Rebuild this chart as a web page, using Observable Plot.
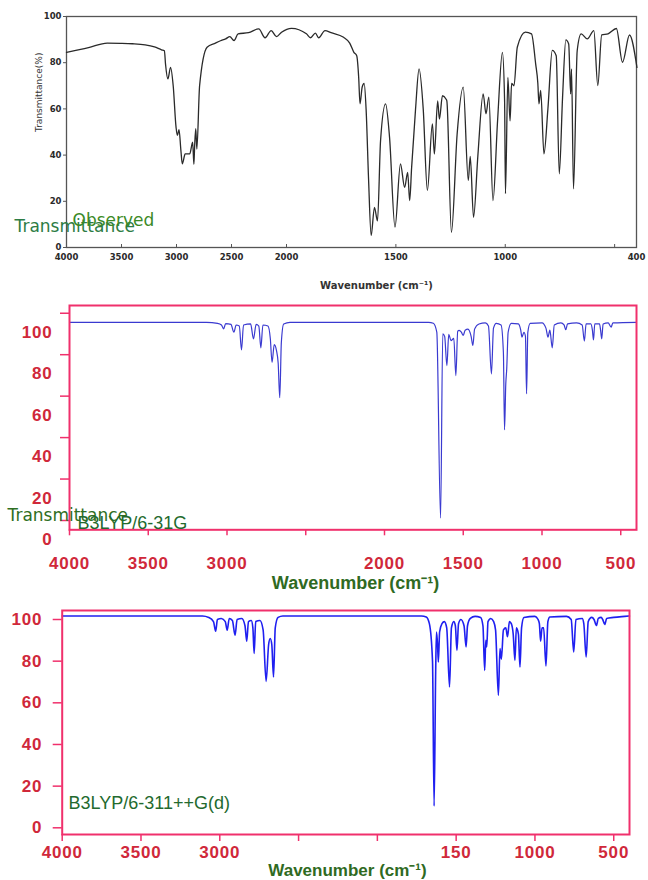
<!DOCTYPE html>
<html><head><meta charset="utf-8">
<script src="https://cdn.jsdelivr.net/npm/d3@7"></script>
<script src="https://cdn.jsdelivr.net/npm/@observablehq/plot@0.6"></script>
<style>
body{margin:0;background:#fff;}
#root{position:relative;width:648px;height:880px;overflow:hidden;background:#fff;}
#root svg{position:absolute;left:0;overflow:visible;}
.calc .tk text{letter-spacing:0.8px;}
</style></head><body><div id="root"></div>
<script>
// ---------- data ----------
const obsWavenumber = [4000,3800,3630,3510,3400,3285,3200,3136,3110,3100,3078,3054,3030,3004,2992,2977,2960,2947,2921,2880,2853,2842,2835,2825,2815,2790,2722,2646,2600,2553,2515,2477,2440,2345,2252,2195,2139,2091,2045,1977,1909,1890,1868,1853,1824,1796,1739,1711,1692,1679,1670,1664,1654,1645,1636,1625,1613,1598,1584,1570,1547,1529,1504,1479,1460,1446,1437,1428,1410,1394,1375,1356,1333,1324,1309,1301,1287,1271,1267,1246,1220,1192,1169,1160,1145,1125,1101,1088,1075,1056,1035,1013,1003,999,988,978,971,960,945,908,880,861,851,846,838,823,805,785,767,753,738,723,710,701,697,688,671,653,625,595,577,559,530,492,464,432,398];
const obsTransmittance = [84.5,86.5,88.5,88.4,88.2,87.7,86.8,85.6,85.2,79.5,73,78,70,52,48.5,51,42,36.2,40.5,40.5,45.6,36,44,51.5,42.6,70,86.7,88.5,89.5,90.3,91.3,89.6,92.5,93,94.6,90.8,93.9,91.3,93.2,94.9,92.5,90.8,92.8,90.8,93.9,93,91,88.5,84.5,83,73.6,62.2,69.5,71,59.7,30,5.2,17.4,11.5,46.3,62.2,47.8,8.8,36.2,26,32.5,20.3,34.6,60,77.3,60,24.7,53.5,40.5,63.5,55.6,65.7,64.3,63.5,6.6,49,69.4,29,39.4,13.1,40,66.5,57.9,65.1,20.3,55,84.5,63.5,23.3,73.6,54.8,71,70,86.7,93.2,92.5,79.5,71,62.2,68,40.5,60,85.3,83,31.9,65,89.9,88.1,66.5,77.3,25.4,85.3,92.5,90.3,93.9,70.1,92,92.5,94.8,80.2,92,78];

const b31gWavenumber = [4000,3130,3060,3035,3022,3008,2975,2956,2942,2922,2908,2895,2850,2832,2815,2798,2785,2772,2740,2725,2714,2700,2686,2675,2665,2655,2640,2600,1720,1690,1668,1644,1630,1618,1604,1592,1578,1560,1547,1535,1526,1512,1500,1488,1470,1450,1439,1428,1400,1360,1340,1321,1308,1290,1260,1245,1238,1230,1224,1215,1195,1150,1135,1127,1115,1105,1098,1090,1075,1000,975,962,950,935,922,880,860,849,838,780,745,731,720,690,680,673,665,635,628,621,612,580,561,550,400];
const b31gTransmittance = [104.8,104.8,104.3,103.5,101.6,104.2,103.8,100,103.5,103,91.5,103.5,104,96.8,103.8,103,92.5,103.5,103,97,85.5,94,91.2,85,68.4,95,104,104.8,104.8,104.3,100,10.3,99.2,98,83.9,99,96,97,79.1,100.5,100.9,100,98.5,101,101.5,98,93.6,101.5,104,104.5,103,79.9,102,104.3,103.5,90,52.9,75,82.3,100,104.3,104,101,97.6,100,98,70.3,100,104.3,104.5,102,97.6,101,92.5,103.5,104.5,103.5,101.2,104,104.5,103.5,95.7,104,104,101,96.3,104,104,101,96.8,104,104.5,102.5,104.5,104.8];

const b311Wavenumber = [4000,3110,3070,3040,3026,3015,2990,2965,2953,2940,2920,2903,2890,2860,2840,2829,2818,2800,2790,2782,2772,2745,2725,2706,2690,2680,2670,2659,2648,2630,2600,1720,1690,1670,1650,1640,1630,1625,1618,1613,1605,1590,1575,1560,1542,1530,1515,1505,1495,1485,1470,1450,1437,1428,1410,1380,1345,1330,1319,1312,1306,1298,1280,1262,1250,1232,1222,1213,1200,1185,1174,1162,1150,1138,1127,1118,1105,1095,1085,1070,1000,980,972,964,955,945,930,918,905,800,770,754,740,700,690,675,662,640,625,610,598,580,570,557,545,500,430,400];
const b311Transmittance = [101.7,101.7,101,99,94.4,100,100.5,99,94.9,100.5,99.5,92.5,100,100.5,97,89.6,99,99.5,96,83.7,99,99.5,95,70.3,88,90.9,88,72.4,96,101,101.7,101.7,101.2,98,80,10.4,75,94,88,79.6,94,98,99,96,67.6,96,99,97,85.2,98,100,97,86.8,97,100.5,101.5,101,97,75.6,90,86.8,99,100.5,99,95,63.6,86,81,95,96,91.7,99,98,93,80.4,96,93,77.2,96,101,101.5,100,98,89.6,96,96,77.7,99,101.2,101.5,100,84.4,100,100.5,98,82,99,101,100,97.1,100.5,101,100,97.6,100.5,101,101.5,101.7];

const yTickValues = [0,20,40,60,80,100];
const obsXTickValues = [3500,3000,2500,2000,1500,1000,500];
const obsXLabelValues = [4000,3500,3000,2500,2000,1500,1000,400];
const calcXTickValues = [4000,3500,3000,2500,2000,1500,1000,500];
const b31gXLabelValues = [4000,3500,3000,2000,1500,1000,500];
const b311XLabelValues = [4000,3500,3000,1500,1000,500];
const b311XLabelText = {4000:"4000",3500:"3500",3000:"3000",1500:"150",1000:"1000",500:"500"};

const obsTitle = "Observed";
const transLabel = "Transmittance";
const obsYTitle = "Transmittance(%)";
const xTitle = "Wavenumber (cm\u207B\u00B9)";
const b31gTitle = "B3LYP/6-31G";
const b311Title = "B3LYP/6-311++G(d)";

const obsData = obsWavenumber.map((w,i)=>({w, t: obsTransmittance[i]}));
const b31gData = b31gWavenumber.map((w,i)=>({w, t: b31gTransmittance[i]}));
const b311Data = b311Wavenumber.map((w,i)=>({w, t: b311Transmittance[i]}));

const root = document.getElementById("root");
const pink = "#f0306c";
const red = "#d0283a";
const plain = d => String(d);

// ---------- panel 1 : observed ----------
const p1 = Plot.plot({
  width: 648, height: 295,
  marginLeft: 66, marginRight: 12, marginTop: 16, marginBottom: 48,
  style: {background: "transparent", fontFamily: "DejaVu Sans", color: "#222"},
  x: {type: "linear", domain: [4000, 2000, 400], range: [66, 286, 636]},
  y: {domain: [0, 100], range: [247, 16]},
  marks: [
    Plot.frame({stroke: "#555", strokeWidth: 1.3}),
    Plot.axisY({ticks: yTickValues, tickSize: 3, tickPadding: 2, fontSize: 8.5, fontWeight: "bold", label: null, stroke: "#555", fill: "#2a2a2a", tickFormat: plain}),
    Plot.axisX({ticks: obsXTickValues, tickSize: 3, dy: -3, tickFormat: () => "", label: null, stroke: "#555"}),
    Plot.axisX({ticks: obsXLabelValues, tickSize: 0, tickPadding: 6, fontSize: 8.5, fontWeight: "bold", label: null, fill: "#2a2a2a", tickFormat: plain}),
    Plot.line(obsData, {x: "w", y: "t", stroke: "#2a2a2a", strokeWidth: 1.3, curve: "monotone-x"}),
    Plot.text([obsYTitle], {frameAnchor: "left", dx: -27, rotate: -90, fontSize: 9, fill: "#333"}),
    Plot.text([xTitle], {frameAnchor: "top-left", dx: 310, dy: 265, fontSize: 10, fontWeight: "bold", fill: "#333", textAnchor: "middle"}),
    Plot.text([transLabel], {frameAnchor: "top-left", dx: -52, dy: 210, fontSize: 17, fill: "#2d7c44", textAnchor: "start", lineAnchor: "middle"}),
    Plot.text([obsTitle], {frameAnchor: "top-left", dx: 6, dy: 204, fontSize: 17, fill: "#3b8a26", textAnchor: "start", lineAnchor: "middle"})
  ]
});
p1.style.top = "0px";
root.appendChild(p1);

// ---------- panel 2 : B3LYP/6-31G ----------
const p2 = Plot.plot({
  className: "calc",
  width: 648, height: 295,
  marginLeft: 69, marginRight: 12, marginTop: 10, marginBottom: 60.7,
  style: {background: "transparent", fontFamily: "Liberation Sans", color: "#222"},
  x: {domain: [4000, 400], range: [69, 636]},
  y: {domain: [0, 112.9], range: [244, 10]},
  marks: [
    Plot.line(b31gData, {x: "w", y: "t", stroke: "#3a3ad0", strokeWidth: 1.2, curve: "monotone-x"}),
    Plot.frame({stroke: pink, strokeWidth: 2}),
    Plot.axisY({ticks: yTickValues, tickSize: 9, dy: -19, tickFormat: () => "", label: null, stroke: pink, strokeWidth: 1.5}),
    Plot.axisY({className: "tk", ticks: yTickValues, tickSize: 0, tickPadding: 17, fontSize: 17, fontWeight: "bold", label: null, fill: red, tickFormat: plain}),
    Plot.axisX({ticks: calcXTickValues, tickSize: 6, tickFormat: () => "", label: null, stroke: pink, strokeWidth: 1.5}),
    Plot.axisX({className: "tk", ticks: b31gXLabelValues, tickSize: 0, tickPadding: 27, fontSize: 17, fontWeight: "bold", label: null, fill: red, tickFormat: plain}),
    Plot.text([transLabel], {frameAnchor: "top-left", dx: -62, dy: 210, fontFamily: "DejaVu Sans", fontSize: 17, fill: "#2f6e22", textAnchor: "start", lineAnchor: "middle"}),
    Plot.text([b31gTitle], {frameAnchor: "top-left", dx: 8, dy: 217.7, fontSize: 18, fill: "#236a2e", textAnchor: "start", lineAnchor: "middle"}),
    Plot.text([xTitle], {frameAnchor: "top-left", dx: 286, dy: 278, fontSize: 18, fontWeight: "bold", fill: "#2f6a22", textAnchor: "middle", lineAnchor: "middle"})
  ]
});
p2.style.top = "295px";
root.appendChild(p2);

// ---------- panel 3 : B3LYP/6-311++G(d) ----------
const p3 = Plot.plot({
  className: "calc",
  width: 648, height: 290,
  marginLeft: 61.7, marginRight: 19, marginTop: 20, marginBottom: 46,
  style: {background: "transparent", fontFamily: "Liberation Sans", color: "#222"},
  x: {domain: [4000, 400], range: [61.7, 629]},
  y: {domain: [0, 100], range: [237.3, 29]},
  marks: [
    Plot.line(b311Data, {x: "w", y: "t", stroke: "#1f1ff0", strokeWidth: 1.6, curve: "monotone-x"}),
    Plot.frame({stroke: pink, strokeWidth: 2}),
    Plot.axisY({ticks: yTickValues, tickSize: 9, tickFormat: () => "", label: null, stroke: pink, strokeWidth: 1.5}),
    Plot.axisY({className: "tk", ticks: yTickValues, tickSize: 0, tickPadding: 20, fontSize: 17, fontWeight: "bold", label: null, fill: red, tickFormat: plain}),
    Plot.axisX({ticks: calcXTickValues, tickSize: 7, tickFormat: () => "", label: null, stroke: pink, strokeWidth: 1.5}),
    Plot.axisX({className: "tk", ticks: b311XLabelValues, tickSize: 0, tickPadding: 11, fontSize: 17, fontWeight: "bold", label: null, fill: red, tickFormat: d => b311XLabelText[d]}),
    Plot.text([b311Title], {frameAnchor: "top-left", dx: 6.3, dy: 193, fontSize: 18, fill: "#236a2e", textAnchor: "start", lineAnchor: "middle"}),
    Plot.text([xTitle], {frameAnchor: "top-left", dx: 285.3, dy: 260.5, fontSize: 17, fontWeight: "bold", fill: "#2f6a22", textAnchor: "middle", lineAnchor: "middle"})
  ]
});
p3.style.top = "590px";
root.appendChild(p3);
</script></body></html>
